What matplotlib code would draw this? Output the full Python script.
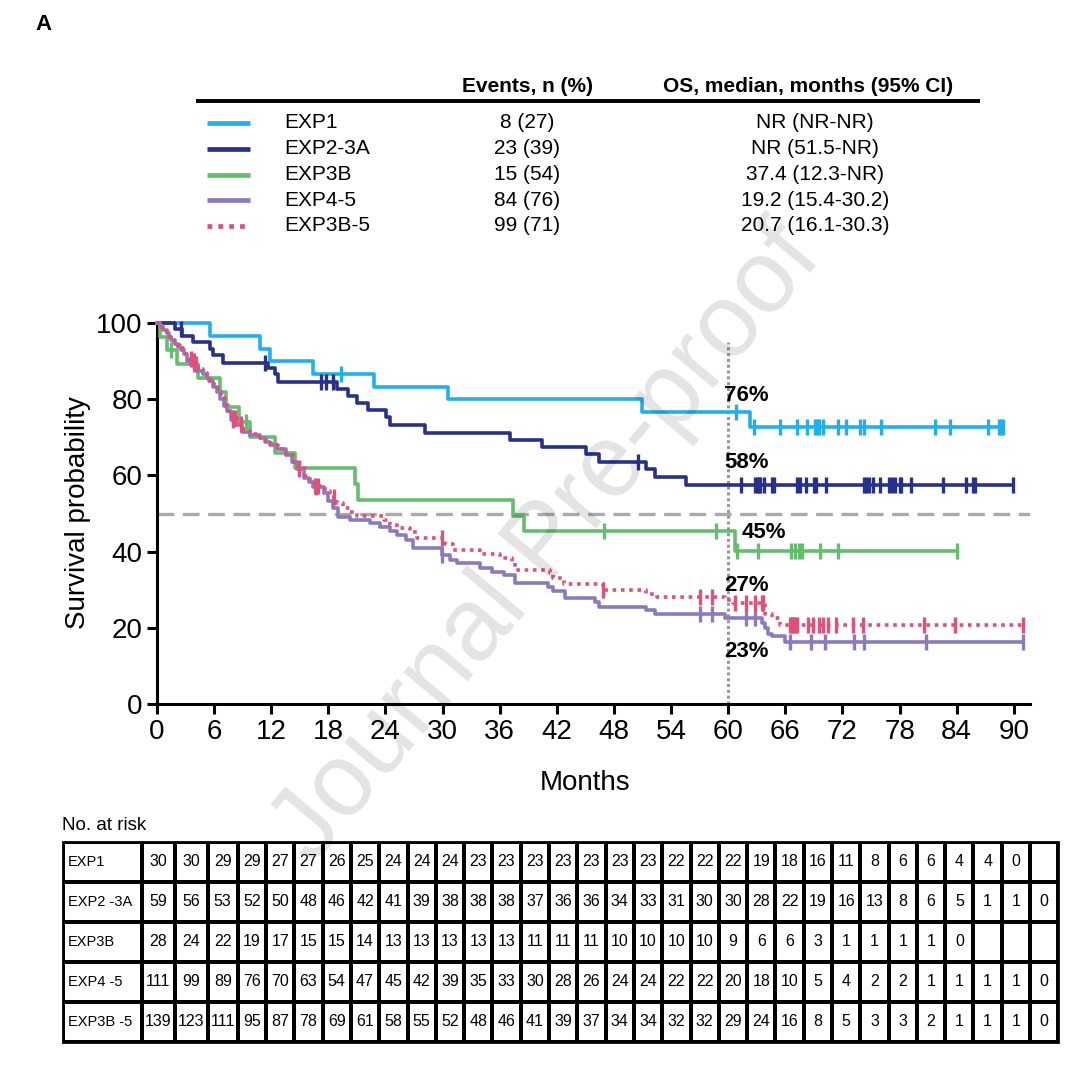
import numpy as np
import matplotlib.pyplot as plt
from matplotlib.patches import Rectangle

plt.rcParams['font.family'] = ['Liberation Sans', 'DejaVu Sans']

# ---------------- data ----------------
groups = ['EXP1', 'EXP2-3A', 'EXP3B', 'EXP4-5', 'EXP3B-5']
colors = ['#22B0EC', '#27318C', '#64BE6E', '#8C7ABF', '#E0507A']
events = ['8 (27)', '23 (39)', '15 (54)', '84 (76)', '99 (71)']
os_median = ['NR (NR-NR)', 'NR (51.5-NR)', '37.4 (12.3-NR)',
             '19.2 (15.4-30.2)', '20.7 (16.1-30.3)']

# KM steps: time of drop (months) and survival (%) after the drop
exp1_t = [5.6, 10.8, 11.9, 16.4, 22.8, 30.6, 50.9, 62.3]
exp1_s = [96.7, 93.3, 90.0, 86.7, 83.3, 80.0, 76.6, 72.6]
exp1_c = [19.3, 60.8, 62.7, 65.4, 67.2, 68.3, 69.1, 69.3, 69.5, 70.0, 71.5,
          72.4, 73.8, 74.3, 76.1, 81.7, 83.3, 87.3, 88.4, 88.7, 88.9]

exp23_t = [1.9, 2.6, 3.8, 5.6, 5.9, 6.9, 11.7, 12.4, 12.7, 18.9, 20.1, 21.0,
           22.2, 24.1, 24.5, 28.2, 37.1, 40.4, 45.1, 46.4, 51.4, 52.3, 55.6]
exp23_s = [98.3, 96.6, 94.9, 93.2, 91.5, 89.6, 88.1, 86.6, 84.5, 82.6, 80.8,
           79.0, 77.1, 75.2, 73.2, 71.2, 69.3, 67.4, 65.5, 63.6, 61.7, 59.7, 57.6]
exp23_c = [2.5, 11.3, 17.2, 17.8, 18.5, 50.5, 61.3, 62.8, 63.0, 63.2, 63.3,
           63.8, 64.6, 64.8, 67.2, 67.5, 68.2, 69.0, 69.2, 70.3, 74.3, 74.5,
           74.8, 75.2, 75.9, 76.9, 77.2, 77.5, 78.0, 78.1, 79.2, 82.6, 85.0,
           85.7, 85.9, 89.9]

exp3b_t = [0.3, 1.0, 2.1, 4.3, 6.6, 7.3, 8.6, 9.8, 12.4, 14.5, 20.8, 21.1,
           37.4, 38.5, 60.7]
exp3b_s = [96.4, 92.9, 89.2, 85.5, 81.8, 78.0, 73.9, 70.0, 66.0, 61.9, 57.8,
           53.6, 49.4, 45.3, 40.2]
exp3b_c = [1.5, 9.4, 47.0, 58.7, 60.9, 63.1, 66.6, 67.0, 67.4, 67.7, 69.6,
           71.5, 84.0]

exp45_t = [0.3, 0.6, 1.0, 1.3, 1.5, 1.9, 2.2, 2.5, 2.8, 3.1, 3.5, 4.0, 4.3,
           4.8, 5.2, 5.5, 5.9, 6.3, 6.6, 7.0, 7.4, 7.8, 8.3, 8.9, 9.8, 10.8,
           11.3, 11.9, 12.6, 13.6, 14.2, 14.7, 15.4, 16.0, 16.4, 17.5, 18.0,
           18.5, 19.0, 20.3, 22.4, 23.4, 24.5, 25.2, 26.2, 26.9, 29.9, 30.8,
           31.5, 33.9, 35.2, 36.4, 37.6, 41.1, 41.6, 42.9, 46.0, 46.4, 51.4,
           52.3, 59.7, 63.5, 63.9, 64.2, 64.6, 66.0]
exp45_s = [99.1, 98.2, 97.3, 96.4, 95.5, 94.6, 93.7, 92.8, 91.9, 90.1, 89.2,
           88.3, 87.4, 86.5, 85.6, 84.7, 83.3, 81.9, 80.0, 78.2, 76.8, 74.6,
           73.2, 71.5, 70.6, 69.7, 68.8, 67.9, 66.9, 65.4, 63.6, 61.8, 59.4,
           58.2, 57.0, 55.3, 53.4, 51.4, 49.2, 48.3, 47.4, 46.5, 45.4, 44.4,
           43.0, 40.9, 39.1, 37.8, 36.9, 35.8, 34.7, 33.9, 31.8, 30.8, 29.7,
           27.7, 26.8, 25.5, 24.7, 23.5, 22.5, 21.2, 19.9, 18.5, 17.8, 16.3]
exp45_c = [3.9, 8.0, 14.9, 16.7, 29.9, 57.0, 58.3, 61.9, 62.8, 66.5, 68.7,
           70.2, 73.2, 74.3, 80.8, 91.0]

exp3b5_t = [0.3, 0.5, 0.8, 1.0, 1.3, 1.5, 1.8, 2.1, 2.4, 2.7, 3.0, 3.3, 3.7,
            4.1, 4.3, 4.8, 5.2, 5.6, 6.0, 6.4, 6.7, 7.1, 7.5, 7.9, 8.4, 9.0,
            9.8, 10.8, 11.4, 12.0, 12.7, 13.6, 14.3, 14.8, 15.5, 16.1, 16.6,
            17.6, 18.2, 18.9, 19.5, 20.3, 21.0, 23.8, 24.5, 25.2, 26.6, 27.3,
            30.3, 31.1, 33.9, 36.0, 37.3, 37.6, 41.3, 41.6, 42.7, 46.9, 51.4,
            52.5, 59.7, 60.5, 63.9, 64.6, 65.4]
exp3b5_s = [99.3, 98.6, 97.8, 97.1, 96.4, 95.7, 94.9, 94.2, 93.5, 92.8, 91.4,
            90.6, 89.9, 89.2, 87.8, 87.0, 86.3, 84.9, 83.5, 82.0, 80.2, 78.4,
            76.9, 75.1, 73.6, 72.2, 70.8, 69.7, 68.9, 67.9, 66.8, 65.4, 63.6,
            61.9, 59.8, 58.3, 57.1, 55.8, 54.2, 52.8, 51.4, 50.3, 49.4, 48.3,
            47.0, 46.1, 45.2, 43.5, 42.1, 40.5, 39.5, 38.2, 36.9, 35.2, 34.3,
            33.2, 31.5, 29.9, 28.8, 28.0, 27.2, 26.4, 23.7, 22.5, 20.8]
exp3b5_c = [3.6, 3.9, 4.1, 8.0, 8.2, 8.8, 14.9, 16.6, 16.9, 18.6, 29.9, 46.9,
            57.0, 58.3, 60.7, 61.9, 62.8, 63.5, 63.7, 66.5, 66.7, 66.8, 67.0,
            67.2, 68.4, 68.9, 69.5, 70.0, 70.5, 71.3, 73.1, 74.2, 80.6, 83.8,
            91.0]

pct_labels = ['76%', '58%', '45%', '27%', '23%']

risk_labels = ['EXP1', 'EXP2 -3A', 'EXP3B', 'EXP4 -5', 'EXP3B -5']
risk_exp1 = [30, 30, 29, 29, 27, 27, 26, 25, 24, 24, 24, 23, 23, 23, 23, 23,
             23, 23, 22, 22, 22, 19, 18, 16, 11, 8, 6, 6, 4, 4, 0]
risk_exp23 = [59, 56, 53, 52, 50, 48, 46, 42, 41, 39, 38, 38, 38, 37, 36, 36,
              34, 33, 31, 30, 30, 28, 22, 19, 16, 13, 8, 6, 5, 1, 1, 0]
risk_exp3b = [28, 24, 22, 19, 17, 15, 15, 14, 13, 13, 13, 13, 13, 11, 11, 11,
              10, 10, 10, 10, 9, 6, 6, 3, 1, 1, 1, 1, 0]
risk_exp45 = [111, 99, 89, 76, 70, 63, 54, 47, 45, 42, 39, 35, 33, 30, 28, 26,
              24, 24, 22, 22, 20, 18, 10, 5, 4, 2, 2, 1, 1, 1, 1, 0]
risk_exp3b5 = [139, 123, 111, 95, 87, 78, 69, 61, 58, 55, 52, 48, 46, 41, 39,
               37, 34, 34, 32, 32, 29, 24, 16, 8, 5, 3, 3, 2, 1, 1, 1, 0]

# ---------------- figure ----------------
W, H = 1080, 1074
fig = plt.figure(figsize=(W / 100, H / 100), dpi=100)


def px_box(x0, y0, x1, y1):
    return [x0 / W, 1 - y1 / H, (x1 - x0) / W, (y1 - y0) / H]


# overlay in pixel coordinates for the free-floating text
ov = fig.add_axes([0, 0, 1, 1], zorder=0)
ov.set_xlim(0, W)
ov.set_ylim(H, 0)
ov.axis('off')

ov.text(35, 25, 'A', fontsize=16, fontweight='bold', ha='left', va='center')

# legend block
ov.text(528, 86, 'Events, n (%)', fontsize=15, fontweight='bold', ha='center', va='center')
ov.text(808, 86, 'OS, median, months (95% CI)', fontsize=15, fontweight='bold',
        ha='center', va='center')
ov.plot([196, 980], [101, 101], color='black', lw=2.8, solid_capstyle='butt')
styles = ['-', '-', '-', '-', (0, (1, 1.3))]
row_y = [123, 149, 174.5, 200, 225.5]
for g, col, ls, ev, om, y in zip(groups, colors, styles, events, os_median, row_y):
    ov.plot([207, 250], [y, y], color=col, lw=3.4, ls=ls, solid_capstyle='butt',
            dash_capstyle='butt')
    ov.text(284, y, g, fontsize=15, ha='left', va='center')
    ov.text(527, y, ev, fontsize=15, ha='center', va='center')
    ov.text(815, y, om, fontsize=15, ha='center', va='center')

# ---------------- KM plot ----------------
ax = fig.add_axes(px_box(157, 323, 1030, 704), zorder=1)
ax.patch.set_alpha(0)
ax.set_xlim(0, 91.7)
ax.set_ylim(0, 100)

ax.axhline(50, color='#AAAAAA', lw=2.4, dashes=(5, 2.6), zorder=1)
ax.plot([60, 60], [0, 95], color='#999999', lw=2.2, ls=(0, (1, 0.9)), zorder=1)

curves = [(exp1_t, exp1_s, exp1_c), (exp23_t, exp23_s, exp23_c),
          (exp3b_t, exp3b_s, exp3b_c), (exp45_t, exp45_s, exp45_c),
          (exp3b5_t, exp3b5_s, exp3b5_c)]
for (t, s, cens), col, ls in zip(curves, colors, styles):
    xs = [0] + t + [max(cens)]
    ys = [100] + s + [s[-1]]
    ax.step(xs, ys, where='post', color=col, lw=2.6, ls=ls, clip_on=False,
            zorder=3, dash_capstyle='butt')
    steps = np.array([100] + s)
    cy = steps[np.searchsorted(np.array(t), cens, side='right')]
    ax.plot(cens, cy, ls='none', marker='|', ms=12, mew=2.4, color=col,
            clip_on=False, zorder=4)

pct_pos = [(59.6, 81.1), (59.6, 63.3), (61.4, 45.1), (59.6, 31.2), (59.6, 13.9)]
for lab, (x, y) in zip(pct_labels, pct_pos):
    ax.text(x, y, lab, fontsize=16, fontweight='bold', ha='left', va='center')

ax.set_xticks(np.arange(0, 91, 6))
ax.set_yticks(np.arange(0, 101, 20))
ax.tick_params(labelsize=20, width=2.2, length=7.5, pad=3)
for sp in ['top', 'right']:
    ax.spines[sp].set_visible(False)
for sp in ['left', 'bottom']:
    ax.spines[sp].set_linewidth(2.2)

fig.text(585 / W, 1 - 783 / H, 'Months', fontsize=20, ha='center', va='center')
fig.text(78 / W, 1 - 513 / H, 'Survival probability', fontsize=20, rotation=90,
         ha='center', va='center')

# ---------------- number at risk table ----------------
ov.text(62, 826, 'No. at risk', fontsize=13.5, ha='left', va='center')

label_w = 79
col_w = [33, 33, 30] + [28.3] * 29
tab_x0, tab_y0, row_h = 62.7, 841.7, 40
tab_w = label_w + sum(col_w)
tab = fig.add_axes(px_box(tab_x0, tab_y0, tab_x0 + tab_w, tab_y0 + 5 * row_h), zorder=1)
tab.set_xlim(0, tab_w)
tab.set_ylim(5 * row_h, 0)
tab.axis('off')
tab.add_patch(Rectangle((0, 0), tab_w, 5 * row_h, facecolor='black', edgecolor='black',
                        lw=2, clip_on=False))
edges = np.concatenate([[0, label_w], label_w + np.cumsum(col_w)])
risk_rows = [risk_exp1, risk_exp23, risk_exp3b, risk_exp45, risk_exp3b5]
gap = 2
for r, (lab, vals) in enumerate(zip(risk_labels, risk_rows)):
    y0 = r * row_h
    for c in range(len(edges) - 1):
        x0, x1 = edges[c], edges[c + 1]
        tab.add_patch(Rectangle((x0 + gap, y0 + gap), x1 - x0 - 2 * gap, row_h - 2 * gap,
                                facecolor='white', edgecolor='none'))
    tab.text(5, y0 + row_h / 2, lab, fontsize=10.5, ha='left', va='center')
    for c, v in enumerate(vals):
        xc = (edges[c + 1] + edges[c + 2]) / 2
        tab.text(xc, y0 + row_h / 2, str(v), fontsize=11.5, ha='center', va='center')

# watermark
fig.text(548 / W, 1 - 545 / H, 'Journal Pre-proof', fontsize=74, rotation=50,
         color='black', alpha=0.11, ha='center', va='center', zorder=10)

fig.savefig('out.png', dpi=100)
